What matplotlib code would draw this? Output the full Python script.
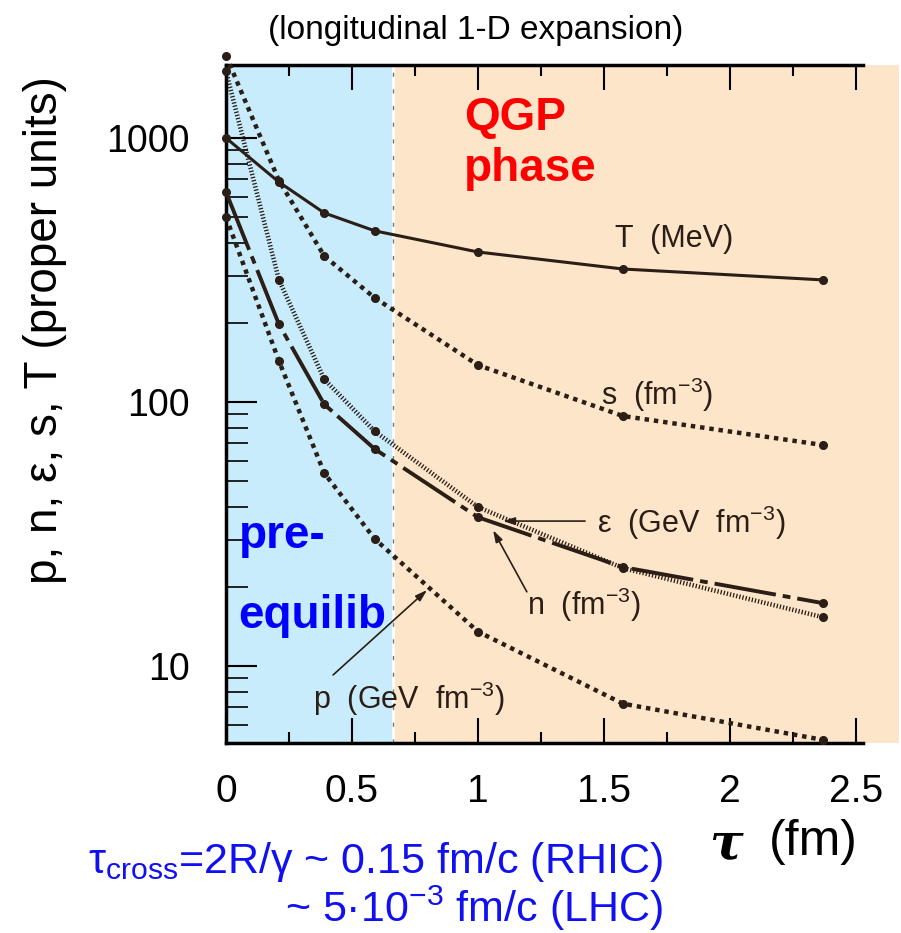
import numpy as np
import matplotlib
matplotlib.use("Agg")
from matplotlib import pyplot as plt
from matplotlib.ticker import FixedLocator, LogLocator, NullFormatter

plt.rcParams["font.family"] = ["Liberation Sans", "DejaVu Sans"]
plt.rcParams["mathtext.fontset"] = "custom"
plt.rcParams["mathtext.rm"] = "Liberation Sans"
plt.rcParams["mathtext.it"] = "Liberation Sans:italic"

# proper time of the points (fm)
tau = [0.0, 0.21, 0.39, 0.59, 1.0, 1.575, 2.37]

# curves (proper units)
T_mev = [1000, 681, 520, 445, 370, 319, 290]
s_dens = [2050, 690, 357, 248, 138, 88.5, 68.7]
eps = [1790, 290, 122, 77.5, 40, 23.5, 15.3]
n_dens = [624, 197, 98, 66.4, 36.6, 23.7, 17.3]
p_pres = [502, 143, 53.8, 30.3, 13.5, 7.2, 5.25]

tau_eq = 0.663  # end of pre-equilibrium band

ink = "#2a1e16"
blue_bg = "#c8ecfb"
orange_bg = "#fde5c9"

fig = plt.figure(figsize=(9.01, 9.33), dpi=100)
ax = fig.add_axes([226 / 901, 190 / 933, 673 / 901, 678 / 933])

ax.set_yscale("log")
ax.set_xlim(0, 2.671)
ax.set_ylim(5.11, 1890)

ax.axvspan(0, tau_eq, color=blue_bg, lw=0, zorder=0)
ax.axvspan(tau_eq, 2.671, color=orange_bg, lw=0, zorder=0)
ax.axvline(tau_eq, color="white", lw=2, zorder=1)
ax.axvline(tau_eq, color="#777777", lw=1, ls=(0, (3, 9)), zorder=1)

mk = dict(marker="o", ms=5.5, color=ink, clip_on=False, zorder=3)
ax.plot(tau, T_mev, ls="-", lw=2.2, **mk)
ax.plot(tau, s_dens, ls=(0, (1, 1.1)), lw=3.2, **mk)
ax.plot(tau, eps, ls=(0, (0.28, 0.42)), lw=3.3, **mk)
ax.plot(tau, n_dens, ls=(0, (16, 1.8, 2, 1.8)), lw=2.8, **mk)
ax.plot(tau, p_pres, ls=(0, (1, 1.1)), lw=3.2, **mk)

# curve labels
lab = dict(fontsize=22, color=ink)
ax.text(1.778, 414, "T  (MeV)", ha="center", va="center", **lab)
ax.text(1.49, 106, "s  (fm$^{-3}$)", ha="left", va="center", **lab)
arr = dict(arrowstyle="-|>,head_length=0.7,head_width=0.22", color=ink, lw=1.2,
           shrinkA=0, shrinkB=0)
ax.annotate("", xy=(1.099, 35.4), xytext=(1.425, 35.4), arrowprops=arr)
ax.text(1.472, 34.8, "ε  (GeV  fm$^{-3}$)", ha="left", va="center", **lab)
ax.annotate("", xy=(1.06, 32.7), xytext=(1.194, 19.1), arrowprops=arr)
ax.text(1.194, 17.0, "n  (fm$^{-3}$)", ha="left", va="center", **lab)
ax.annotate("", xy=(0.798, 19.4), xytext=(0.425, 9.25), arrowprops=arr)
ax.text(0.345, 7.5, "p  (GeV  fm$^{-3}$)", ha="left", va="center", **lab)

# phase labels
ax.text(0.946, 1440, "QGP\nphase", color="#ff0000", fontsize=33, fontweight="bold",
        ha="left", va="top", linespacing=1.2)
ax.text(0.05, 28, "pre-", color="#0000ff", fontsize=33, fontweight="bold",
        ha="left", va="baseline")
ax.text(0.05, 13.9, "equilib", color="#0000ff", fontsize=33, fontweight="bold",
        ha="left", va="baseline")

for side in ["top", "bottom", "left"]:
    ax.spines[side].set_linewidth(2.5)
    ax.spines[side].set_color("black")
ax.spines["right"].set_visible(False)
ax.spines["bottom"].set_bounds(0, 2.53)
ax.spines["top"].set_bounds(0, 2.53)

ax.xaxis.set_major_locator(FixedLocator([0, 0.5, 1, 1.5, 2, 2.5]))
ax.xaxis.set_minor_locator(FixedLocator([0.25, 0.75, 1.25, 1.75, 2.25]))
ax.set_xticklabels(["0", "0.5", "1", "1.5", "2", "2.5"])
ax.yaxis.set_major_locator(FixedLocator([10, 100, 1000]))
ax.yaxis.set_minor_locator(LogLocator(base=10, subs=np.arange(2, 10)))
ax.yaxis.set_minor_formatter(NullFormatter())
ax.set_yticklabels(["10", "100", "1000"])
ax.tick_params(axis="both", which="both", direction="in", top=True, color="black")
ax.tick_params(axis="x", which="major", length=18, width=1.5, pad=22, labelsize=28)
ax.tick_params(axis="x", which="minor", length=8, width=1.5)
ax.tick_params(axis="y", which="major", length=22, width=1.5, pad=26, labelsize=27)
ax.tick_params(axis="y", which="minor", length=16, width=1.2)

fig.text(45 / 901, 1 - 330 / 933, "p, n, ε, s, T (proper units)", rotation=90,
         ha="center", va="center", fontsize=33)
fig.text(476 / 901, 1 - 31 / 933, "(longitudinal 1-D expansion)", ha="center",
         va="center", fontsize=24)
fig.text(726 / 901, 1 - 845 / 933, "τ", ha="center", va="center", fontsize=36,
         family="DejaVu Serif", style="italic", fontweight="bold")
fig.text(813 / 901, 1 - 842 / 933, "(fm)", ha="center", va="center", fontsize=36)

fig.text(663 / 901, 1 - 862 / 933, r"τ$_{\mathrm{cross}}$=2R/γ ~ 0.15 fm/c (RHIC)",
         ha="right", va="center", fontsize=31, color="#1010f0")
fig.text(663 / 901, 1 - 908 / 933, r"~ 5·10$^{\mathrm{-3}}$ fm/c (LHC)",
         ha="right", va="center", fontsize=31, color="#1010f0")

fig.savefig("out.png", dpi=100)
